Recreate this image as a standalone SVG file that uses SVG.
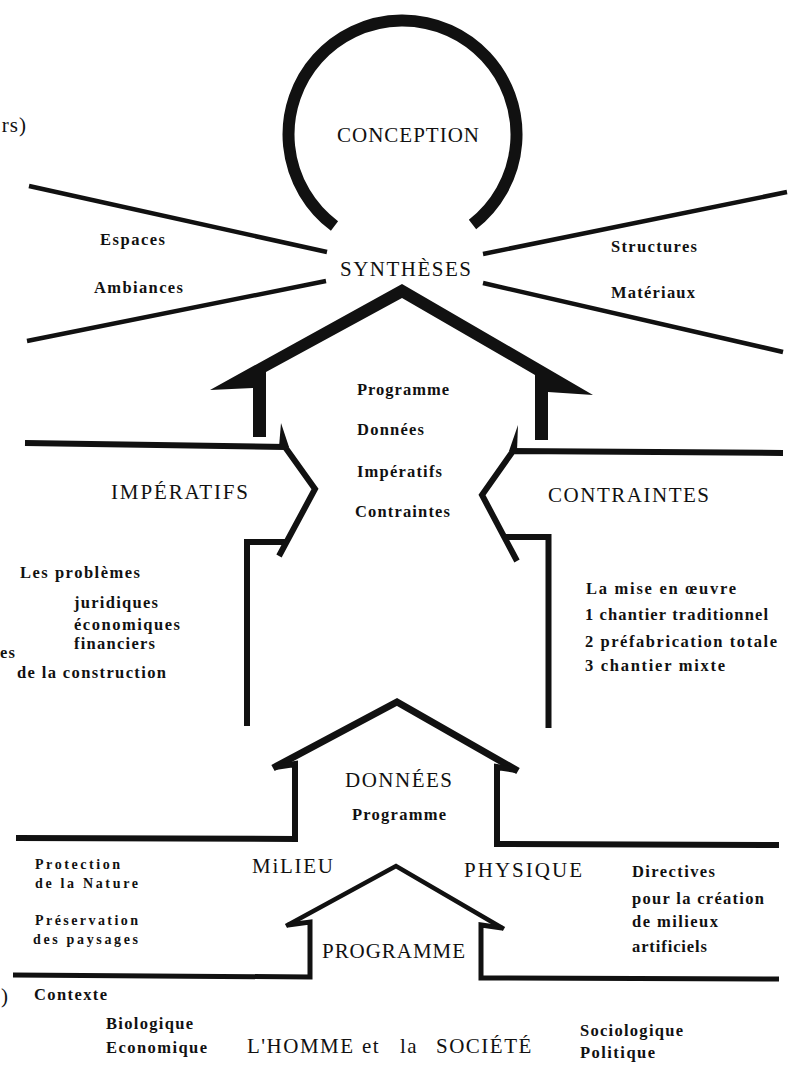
<svg xmlns="http://www.w3.org/2000/svg" width="795" height="1071" viewBox="0 0 795 1071">
<style>
.cap{font-family:"Liberation Serif","Times New Roman",serif;font-size:21px;fill:#111}
.lab{font-family:"Liberation Serif","Times New Roman",serif;font-size:16.5px;font-weight:bold;fill:#111}
.sm{font-size:14px}
.ln{fill:none;stroke:#111;stroke-linecap:butt;stroke-linejoin:miter}
.th{stroke-width:4.5}
.md{stroke-width:6}
.fill{fill:#111;stroke:none}
</style>
<rect width="795" height="1071" fill="#fff"/>

<g id="conception">
<path class="ln" d="M334.5,226 A114,114 0 1 1 472.5,224.5" stroke-width="12"/>
<text class="cap" x="337" y="142" textLength="142" lengthAdjust="spacing">CONCEPTION</text>
</g>

<g id="syntheses">
<text class="cap" x="340" y="276" textLength="131" lengthAdjust="spacing">SYNTHÈSES</text>
<text class="lab" x="100" y="245" textLength="65" lengthAdjust="spacing">Espaces</text>
<text class="lab" x="94" y="293" textLength="89" lengthAdjust="spacing">Ambiances</text>
<text class="lab" x="611" y="252" textLength="86" lengthAdjust="spacing">Structures</text>
<text class="lab" x="611" y="298" textLength="84" lengthAdjust="spacing">Matériaux</text>
</g>

<g id="programme-central">
<path class="fill" d="M210,390 L402,284 L593,395 L548,392 L548,440 L535,440 L535,375 L402,298 L266,372 L266,437 L253,437 L253,388 Z"/>
<text class="lab" x="357" y="395" textLength="92" lengthAdjust="spacing">Programme</text>
<text class="lab" x="357" y="435" textLength="67" lengthAdjust="spacing">Données</text>
<text class="lab" x="357" y="477" textLength="85" lengthAdjust="spacing">Impératifs</text>
<text class="lab" x="355" y="517" textLength="95" lengthAdjust="spacing">Contraintes</text>
</g>

<g id="imperatifs">
<path class="ln md" d="M25,443 L285,447 L315,489 L279,556"/>
<polygon class="fill" points="281,423 289,447 279,447"/>
<path class="ln md" d="M247,726 L247,542 L287,542"/>
<text class="cap" x="111" y="499" textLength="137" lengthAdjust="spacing">IMPÉRATIFS</text>
<text class="lab" x="20" y="578" textLength="120" lengthAdjust="spacing">Les problèmes</text>
<text class="lab" x="74" y="608" textLength="84" lengthAdjust="spacing">juridiques</text>
<text class="lab" x="74" y="630" textLength="106" lengthAdjust="spacing">économiques</text>
<text class="lab" x="74" y="649" textLength="81" lengthAdjust="spacing">financiers</text>
<text class="lab" x="0" y="658" textLength="15" lengthAdjust="spacing">es</text>
<text class="lab" x="17" y="678" textLength="149" lengthAdjust="spacing">de la construction</text>
</g>

<g id="contraintes">
<path class="ln md" d="M783,453 L513,451 L482,495 L517,561"/>
<polygon class="fill" points="518,425 517,451 509,451"/>
<path class="ln md" d="M548.5,728 L548.5,537 L504,537"/>
<text class="cap" x="548" y="502" textLength="161" lengthAdjust="spacing">CONTRAINTES</text>
<text class="lab" x="586" y="594" textLength="150" lengthAdjust="spacing">La mise en œuvre</text>
<text class="lab" x="585" y="620" textLength="183" lengthAdjust="spacing">1 chantier traditionnel</text>
<text class="lab" x="585" y="647" textLength="192" lengthAdjust="spacing">2 préfabrication totale</text>
<text class="lab" x="585" y="671" textLength="140" lengthAdjust="spacing">3 chantier mixte</text>
</g>

<g id="donnees">
<path class="ln" stroke-width="7" d="M273,768 L397,702 L518,771"/>
<path class="ln md" d="M275,767 L295,764 L295,839 L16,838"/>
<path class="ln md" d="M516,770 L497,767 L497,844 L779,845"/>
<text class="cap" x="345" y="787" textLength="107" lengthAdjust="spacing">DONNÉES</text>
<text class="lab" x="352" y="820" textLength="94" lengthAdjust="spacing">Programme</text>
</g>

<g id="milieu-physique">
<text class="cap" x="252" y="873" textLength="81" lengthAdjust="spacing">MiLIEU</text>
<text class="cap" x="464" y="877" textLength="118" lengthAdjust="spacing">PHYSIQUE</text>
<text class="lab sm" x="35" y="869" textLength="85" lengthAdjust="spacing">Protection</text>
<text class="lab sm" x="35" y="888" textLength="103" lengthAdjust="spacing">de la Nature</text>
<text class="lab sm" x="35" y="925" textLength="103" lengthAdjust="spacing">Préservation</text>
<text class="lab sm" x="33" y="944" textLength="105" lengthAdjust="spacing">des paysages</text>
<text class="lab" x="632" y="877" textLength="83" lengthAdjust="spacing">Directives</text>
<text class="lab" x="632" y="904" textLength="132" lengthAdjust="spacing">pour la création</text>
<text class="lab" x="632" y="927" textLength="86" lengthAdjust="spacing">de milieux</text>
<text class="lab" x="632" y="952" textLength="75" lengthAdjust="spacing">artificiels</text>
</g>

<g id="programme">
<path class="ln th" d="M286,926 L396,866 L504,929"/>
<path class="ln" stroke-width="5" d="M288,925 L310,922 L310,977 L13,975"/>
<path class="ln" stroke-width="5" d="M502,928 L481,925 L481,978 L779,979"/>
<text class="cap" x="322" y="958" textLength="143" lengthAdjust="spacing">PROGRAMME</text>
</g>

<g id="homme-societe">
<text class="cap" y="1053" font-size="20" letter-spacing="1.5"><tspan x="247">L'HOMME</tspan> <tspan x="362">et</tspan> <tspan x="400">la</tspan> <tspan x="436">SOCIÉTÉ</tspan></text>
<text class="lab" x="34" y="1000" textLength="73" lengthAdjust="spacing">Contexte</text>
<text class="lab" x="106" y="1029" textLength="87" lengthAdjust="spacing">Biologique</text>
<text class="lab" x="106" y="1053" textLength="101" lengthAdjust="spacing">Economique</text>
<text class="lab" x="580" y="1036" textLength="103" lengthAdjust="spacing">Sociologique</text>
<text class="lab" x="580" y="1058" textLength="75" lengthAdjust="spacing">Politique</text>
</g>

<g id="edge-fragments">
<text class="cap" x="27" y="132" font-size="18" text-anchor="end" letter-spacing="1">rs)</text>
<text class="cap" x="1" y="1003" font-size="18">)</text>
</g>

<g id="connectors">
<path class="ln th" d="M29,186 L327,252"/>
<path class="ln th" d="M27,341 L326,281"/>
<path class="ln th" d="M483,254 L787,192"/>
<path class="ln th" d="M483,283 L783,352"/>
</g>
</svg>
